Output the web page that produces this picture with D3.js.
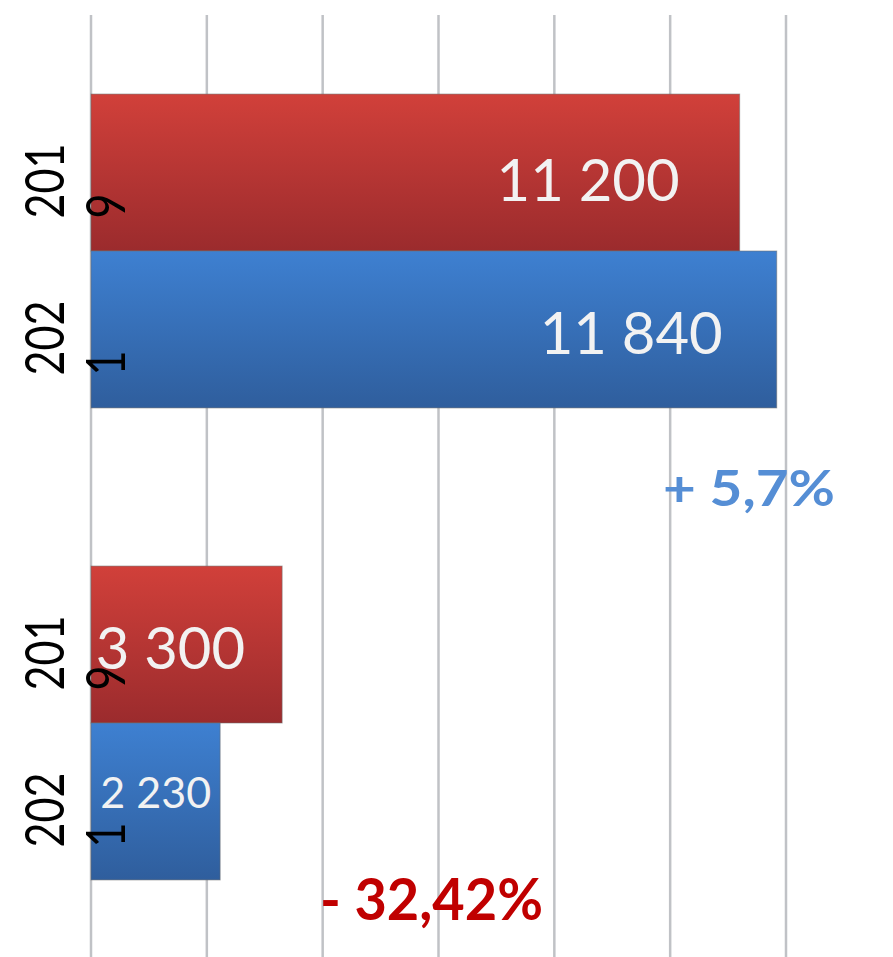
<!DOCTYPE html>
<html lang="ru">
<head>
    <meta charset="UTF-8">
    <script src="https://d3js.org/d3.v7.min.js"></script>
    <style>
        body {
            margin: 0;
            padding: 0;
            background-color: #ffffff;
            overflow: hidden;
        }

        svg {
            display: block;
        }

        .grid line {
            stroke: #c0c2c6;
            stroke-width: 2.5;
        }

        .year {
            font-family: 'Lato', sans-serif;
            fill: #000000;
        }

        .value {
            font-family: 'Lato', sans-serif;
            fill: #f2f2f2;
        }

        .change {
            font-family: 'Lato', sans-serif;
            font-weight: bold;
        }
    </style>
</head>
<body>
    <svg id="chart"></svg>

    <script>
        // Data for the chart
        const groups = ["group1", "group2"];
        const years = ["2019", "2021"];
        const values2019 = [11200, 3300];
        const values2021 = [11840, 2230];
        const valueLabels2019 = ["11 200", "3 300"];
        const valueLabels2021 = ["11 840", "2 230"];
        const changeLabels = ["+ 5,7%", "- 32,42%"];
        const xTicks = [0, 2000, 4000, 6000, 8000, 10000, 12000];

        const width = 893;
        const height = 957;

        const svg = d3.select("#chart")
            .attr("width", width)
            .attr("height", height);

        // Gradients like the office chart fill
        const defs = svg.append("defs");
        const fills = {
            "2019": ["#d1403a", "#9b2b2d"],
            "2021": ["#3e80d1", "#2f5e9d"]
        };
        Object.entries(fills).forEach(([key, c]) => {
            const g = defs.append("linearGradient")
                .attr("id", "grad" + key)
                .attr("x1", 0).attr("y1", 0).attr("x2", 0).attr("y2", 1);
            g.append("stop").attr("offset", "0%").attr("stop-color", c[0]);
            g.append("stop").attr("offset", "100%").attr("stop-color", c[1]);
        });

        // Scales
        const x = d3.scaleLinear()
            .domain([0, 12000])
            .range([91, 786]);

        const y0 = d3.scaleBand()
            .domain(groups)
            .range([15, 959])
            .paddingInner(0.335)
            .paddingOuter(0.1675);

        const y1 = d3.scaleBand()
            .domain(years)
            .range([0, y0.bandwidth()]);

        // Vertical gridlines
        svg.append("g")
            .attr("class", "grid")
            .selectAll("line")
            .data(xTicks)
            .enter()
            .append("line")
            .attr("x1", d => x(d))
            .attr("x2", d => x(d))
            .attr("y1", 15)
            .attr("y2", height);

        // Flatten into rows
        const rows = [];
        groups.forEach((g, i) => {
            rows.push({ group: g, year: years[0], value: values2019[i], label: valueLabels2019[i], gi: i });
            rows.push({ group: g, year: years[1], value: values2021[i], label: valueLabels2021[i], gi: i });
        });

        // Value label placement (size / offset from bar end / vertical shift)
        const labelStyle = [
            { size: 58, dx: -60, dy: 14 },
            { size: 58, dx: -54, dy: 10 },
            { size: 58, dx: -37, dy: 10 },
            { size: 43, dx: -9, dy: -4 }
        ];

        // Bars
        svg.selectAll(".bar")
            .data(rows)
            .enter()
            .append("rect")
            .attr("class", "bar")
            .attr("x", x(0))
            .attr("y", d => y0(d.group) + y1(d.year))
            .attr("width", d => x(d.value) - x(0))
            .attr("height", y1.bandwidth())
            .attr("fill", d => `url(#grad${d.year})`)
            .attr("stroke", "rgba(110,110,110,0.55)")
            .attr("stroke-width", 1);

        // Value labels inside bars
        svg.selectAll(".value")
            .data(rows)
            .enter()
            .append("text")
            .attr("class", "value")
            .attr("text-anchor", "end")
            .attr("font-size", (d, i) => labelStyle[i].size)
            .attr("x", (d, i) => x(d.value) + labelStyle[i].dx)
            .attr("y", (d, i) => y0(d.group) + y1(d.year) + y1.bandwidth() / 2 + labelStyle[i].dy)
            .attr("dominant-baseline", "middle")
            .text(d => d.label);

        // Year labels: rotated, wrapped into "201" / "9"
        rows.forEach(d => {
            const cy = y0(d.group) + y1(d.year) + y1.bandwidth() / 2 + 46;
            const t = svg.append("text")
                .attr("class", "year")
                .attr("font-size", 54)
                .attr("transform", `translate(0,${cy}) rotate(-90)`);
            t.append("tspan")
                .attr("x", 0)
                .attr("y", 64)
                .attr("textLength", 75)
                .attr("lengthAdjust", "spacingAndGlyphs")
                .text(d.year.slice(0, 3));
            t.append("tspan")
                .attr("x", 0)
                .attr("y", 125)
                .attr("textLength", 25)
                .attr("lengthAdjust", "spacingAndGlyphs")
                .text(d.year.slice(3));
        });

        // Change annotations
        const changeStyle = [
            { x: 663, dy: 98, color: "#558ed5", len: 172, size: 50 },
            { x: 320, dy: 40, color: "#c00000", len: 223, size: 58 }
        ];
        svg.selectAll(".change")
            .data(changeLabels)
            .enter()
            .append("text")
            .attr("class", "change")
            .attr("x", (d, i) => changeStyle[i].x)
            .attr("y", (d, i) => y0(groups[i]) + y0.bandwidth() + changeStyle[i].dy)
            .attr("fill", (d, i) => changeStyle[i].color)
            .attr("font-size", (d, i) => changeStyle[i].size)
            .attr("textLength", (d, i) => changeStyle[i].len)
            .attr("lengthAdjust", "spacingAndGlyphs")
            .text(d => d);
    </script>
</body>
</html>
